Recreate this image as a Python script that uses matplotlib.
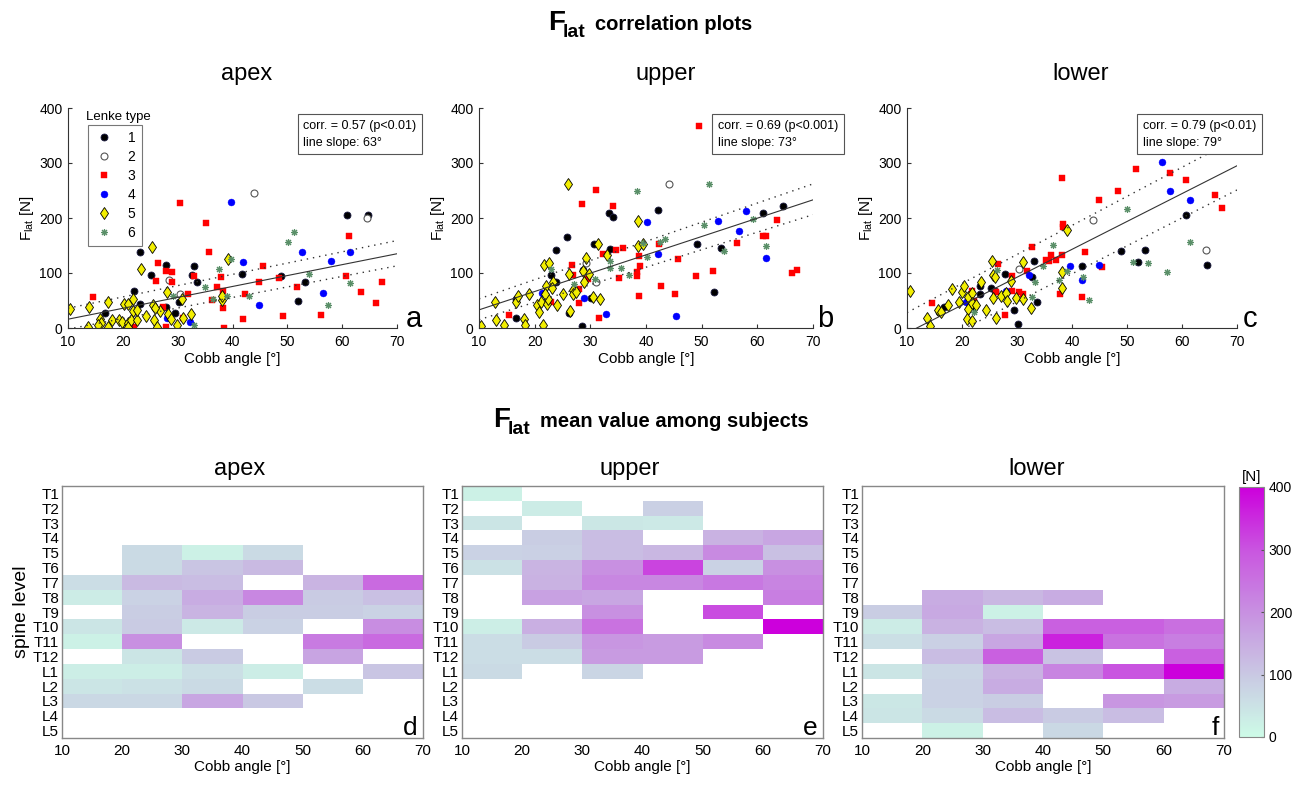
import numpy as np
import matplotlib
matplotlib.use('Agg')
import matplotlib.pyplot as plt
from matplotlib.colors import LinearSegmentedColormap
from matplotlib.lines import Line2D

plt.rcParams['font.family'] = ['Liberation Sans', 'DejaVu Sans']
plt.rcParams['mathtext.fontset'] = 'custom'
plt.rcParams['mathtext.rm'] = 'Liberation Sans'

nan = float('nan')

###################################################################
# scatter data: (Cobb angle [deg], F_lat [N]) per Lenke type
APEX_T1 = [(23.1, 139), (25.1, 96), (22.1, 67), (16.8, 27), (23.2, 44), (27.9, 114), (27.9, 38),
           (29.6, 27), (30.2, 47), (32.9, 112), (32.7, 97), (33.5, 84), (41.8, 98), (48.9, 95),
           (52.0, 50), (53.3, 83), (60.9, 205), (64.7, 205)]
APEX_T2 = [(28.5, 87), (30.4, 61), (43.9, 245), (64.5, 200)]
APEX_T3 = [(14.5, 56), (22.1, 2), (26.4, 119), (26.0, 86), (27.8, 103), (29.0, 101), (29.0, 83),
           (27.3, 38), (27.8, 2), (30.4, 227), (31.9, 61), (30.9, 18), (32.9, 94), (35.2, 191),
           (35.8, 139), (36.2, 51), (37.1, 75), (37.9, 93), (38.2, 67), (38.2, 37), (38.4, 0),
           (42.2, 61), (42.0, 16), (44.9, 84), (45.5, 112), (48.5, 91), (49.2, 21), (51.7, 75),
           (56.2, 24), (60.7, 95), (61.2, 168), (63.5, 65), (66.1, 45), (67.3, 83)]
APEX_T4 = [(39.7, 230), (41.9, 120), (52.7, 138), (58.0, 121), (56.5, 64), (61.5, 139),
           (44.9, 42), (28.1, 19), (32.2, 11)]
APEX_T5 = [(10.4, 35), (13.8, 38), (13.7, 1), (17.3, 47), (15.8, 17), (16.0, 9), (15.5, 5),
           (17.3, 1), (18.1, 15), (19.3, 15), (20.2, 44), (21.0, 44), (21.9, 53), (21.8, 31),
           (19.9, 11), (20.9, 9), (21.0, 2), (21.5, 15), (22.5, 15), (22.6, 32), (23.4, 108),
           (24.3, 21), (25.4, 147), (25.5, 41), (25.7, 15), (26.2, 1), (26.8, 31), (28.0, 65),
           (28.3, 26), (28.7, 16), (29.8, 5), (30.8, 52), (31.0, 19), (32.4, 26), (38.0, 51),
           (38.1, 58), (39.1, 125), (25.9, 36)]
APEX_T6 = [(50.1, 157), (51.3, 174), (37.6, 108), (34.9, 75), (36.5, 53), (39.0, 59), (39.7, 125),
           (43.0, 58), (53.9, 99), (57.4, 42), (61.4, 81), (32.9, 6), (29.2, 59)]

UPPER_T1 = [(16.6, 53), (16.6, 19), (22.9, 96), (23.8, 141), (23.9, 83), (25.8, 166), (26.2, 28),
            (28.6, 106), (28.5, 4), (30.6, 152), (30.2, 55), (33.3, 210), (34.1, 201), (33.5, 144),
            (42.2, 214), (49.2, 152), (52.3, 65), (53.5, 145), (61.0, 209), (64.7, 221)]
UPPER_T2 = [(29.2, 118), (31.0, 84), (44.1, 262), (64.4, 380)]
UPPER_T3 = [(15.4, 24), (22.9, 48), (26.7, 115), (26.9, 96), (28.0, 71), (28.5, 226), (27.9, 45),
            (29.6, 90), (31.0, 251), (31.5, 19), (32.3, 134), (34.0, 222), (34.6, 141), (35.1, 91),
            (35.9, 145), (38.4, 101), (38.4, 94), (38.8, 131), (38.9, 112), (38.7, 59), (42.4, 152),
            (42.7, 77), (45.8, 125), (45.2, 62), (48.9, 95), (49.5, 368), (52.0, 104), (56.4, 155),
            (61.0, 168), (61.5, 167), (63.6, 196), (66.2, 100), (67.2, 106)]
UPPER_T4 = [(21.3, 64), (28.8, 55), (32.8, 25), (40.2, 193), (42.2, 135), (45.3, 21), (52.9, 195),
            (56.7, 177), (58.0, 213), (61.6, 128)]
UPPER_T5 = [(10.4, 3), (12.9, 48), (13.1, 15), (14.5, 5), (16.6, 47), (17.0, 59), (18.1, 17),
            (18.2, 5), (18.9, 62), (20.5, 41), (20.7, 29), (21.1, 47), (21.5, 5), (21.7, 114),
            (22.5, 118), (22.0, 76), (22.3, 44), (22.4, 53), (21.8, 62), (23.3, 83), (23.2, 73),
            (24.1, 41), (25.1, 62), (26.0, 262), (26.2, 99), (26.3, 31), (26.8, 70), (26.8, 61),
            (27.5, 65), (28.6, 104), (28.8, 83), (29.3, 128), (29.7, 98), (30.4, 56), (31.4, 153),
            (31.7, 53), (33.0, 132), (38.6, 194), (38.6, 150), (39.5, 152)]
UPPER_T6 = [(22.9, 107), (27.0, 80), (30.9, 89), (33.5, 121), (33.5, 109), (35.5, 109), (36.9, 96),
            (38.3, 250), (40.1, 129), (39.5, 155), (42.5, 157), (43.4, 162), (50.4, 187), (51.4, 262),
            (54.0, 140), (59.2, 198), (61.6, 150)]

LOWER_T1 = [(15.9, 30), (16.7, 39), (23.2, 76), (23.2, 62), (22.1, 38), (25.2, 73), (26.0, 68),
            (27.9, 98), (29.5, 33), (30.1, 7), (33.0, 122), (32.8, 92), (33.6, 47), (41.8, 113),
            (48.9, 140), (52.0, 120), (53.2, 142), (60.8, 206), (64.5, 115)]
LOWER_T2 = [(30.4, 108), (43.9, 196), (64.4, 142)]
LOWER_T3 = [(14.5, 45), (21.8, 67), (22.1, 50), (26.5, 116), (26.1, 66), (27.9, 24), (29.1, 95),
            (29.1, 68), (30.4, 65), (31.0, 62), (31.8, 103), (32.8, 148), (35.3, 124), (35.8, 121),
            (36.2, 132), (37.1, 124), (38.1, 273), (38.3, 189), (38.3, 184), (38.2, 133), (37.9, 61),
            (41.9, 56), (42.3, 138), (44.9, 233), (45.5, 111), (48.4, 250), (51.6, 289), (57.9, 281),
            (60.8, 270), (63.5, 327), (66.0, 241), (67.2, 218)]
LOWER_T4 = [(20.7, 47), (28.0, 68), (32.1, 96), (39.7, 113), (41.9, 87), (44.9, 115), (52.6, 342),
            (56.4, 302), (57.9, 250), (61.5, 233)]
LOWER_T5 = [(10.5, 68), (13.6, 19), (14.1, 3), (15.6, 33), (16.1, 29), (17.5, 41), (18.2, 71),
            (19.5, 47), (20.0, 65), (20.4, 76), (21.0, 56), (21.0, 34), (20.9, 16), (21.8, 64),
            (21.9, 13), (21.8, 45), (22.5, 41), (23.5, 84), (24.4, 32), (25.5, 121), (25.6, 96),
            (26.0, 92), (25.6, 55), (26.2, 19), (27.0, 59), (28.0, 64), (28.2, 50), (28.9, 86),
            (29.9, 55), (31.0, 53), (31.0, 120), (32.5, 36), (38.1, 101), (38.2, 72), (39.0, 178)]
LOWER_T6 = [(22.2, 30), (26.4, 105), (36.6, 151), (34.8, 112), (33.2, 83), (32.7, 56), (37.6, 87),
            (39.0, 104), (42.0, 93), (43.0, 51), (50.0, 217), (51.0, 120), (53.9, 118), (57.3, 101),
            (61.4, 156)]

# fitted line and dotted bounds, values at Cobb angle 10 and 70
FIT_X = [10, 70]
APEX_FIT = [16, 135]
APEX_UP = [36, 159]
APEX_LO = [-2, 113]
UPPER_FIT = [33, 233]
UPPER_UP = [53, 262]
UPPER_LO = [15, 206]
LOWER_FIT = [-9, 295]
LOWER_UP = [28, 345]
LOWER_LO = [-54, 251]

APEX_STATS = 'corr. = 0.57 (p<0.01)\nline slope: 63°'
UPPER_STATS = 'corr. = 0.69 (p<0.001)\nline slope: 73°'
LOWER_STATS = 'corr. = 0.79 (p<0.01)\nline slope: 79°'

LENKE_TYPES = ['1', '2', '3', '4', '5', '6']

# heatmap data: mean F_lat per spine level and Cobb angle bin
LEVELS = ['T1', 'T2', 'T3', 'T4', 'T5', 'T6', 'T7', 'T8', 'T9', 'T10', 'T11', 'T12',
          'L1', 'L2', 'L3', 'L4', 'L5']
COBB_EDGES = [10, 20, 30, 40, 50, 60, 70]

APEX_MEAN = [
    [nan, nan, nan, nan, nan, nan],
    [nan, nan, nan, nan, nan, nan],
    [nan, nan, nan, nan, nan, nan],
    [nan, nan, nan, nan, nan, nan],
    [nan, 65, 20, 65, nan, nan],
    [nan, 65, 105, 125, nan, nan],
    [60, 125, 120, nan, 135, 265],
    [30, 80, 150, 215, 95, 115],
    [nan, 90, 135, 90, 90, 80],
    [45, 95, 35, 80, nan, 205],
    [20, 200, nan, nan, 235, 265],
    [nan, 45, 95, nan, 165, nan],
    [25, 25, 55, 28, nan, 105],
    [45, 50, 65, nan, 60, nan],
    [70, 70, 160, 100, nan, nan],
    [nan, nan, nan, nan, nan, nan],
    [nan, nan, nan, nan, nan, nan],
]
UPPER_MEAN = [
    [20, nan, nan, nan, nan, nan],
    [nan, 30, nan, 85, nan, nan],
    [45, nan, 40, 35, nan, nan],
    [nan, 90, 120, nan, 140, 160],
    [80, 85, 120, 130, 210, 115],
    [50, 135, 200, 320, 80, 200],
    [nan, 140, 215, 215, 240, 220],
    [nan, 170, 160, nan, nan, 230],
    [nan, nan, 200, nan, 310, nan],
    [25, 145, 250, nan, nan, 400],
    [60, 95, 190, 180, 210, nan],
    [60, 60, 180, 180, nan, nan],
    [65, nan, 75, nan, nan, nan],
    [nan, nan, nan, nan, nan, nan],
    [nan, nan, nan, nan, nan, nan],
    [nan, nan, nan, nan, nan, nan],
    [nan, nan, nan, nan, nan, nan],
]
LOWER_MEAN = [
    [nan, nan, nan, nan, nan, nan],
    [nan, nan, nan, nan, nan, nan],
    [nan, nan, nan, nan, nan, nan],
    [nan, nan, nan, nan, nan, nan],
    [nan, nan, nan, nan, nan, nan],
    [nan, nan, nan, nan, nan, nan],
    [nan, nan, nan, nan, nan, nan],
    [nan, 150, 130, 150, nan, nan],
    [90, 155, 20, nan, nan, nan],
    [30, 140, 120, 280, 280, 255],
    [55, 85, 160, 360, 250, 230],
    [nan, 120, 280, 110, nan, 280],
    [45, 75, 140, 220, 300, 400],
    [nan, 80, 150, nan, nan, 150],
    [40, 80, 90, nan, 190, 180],
    [45, 65, 120, 95, 120, nan],
    [nan, 20, nan, 70, nan, nan],
]

###################################################################
W, H = 1305, 787
MARKERS = {
    '1': dict(marker='o', ms=5, mfc='black', mec='#1a1a40', mew=0.6),
    '2': dict(marker='o', ms=5, mfc='white', mec='#555555', mew=0.8),
    '3': dict(marker='s', ms=4, mfc='#ff0000', mec='#ff0000', mew=0.3),
    '4': dict(marker='o', ms=5, mfc='#0000ff', mec='#0000ff', mew=0.3),
    '5': dict(marker='d', ms=6, mfc='#f2ee00', mec='black', mew=0.6),
    '6': dict(marker=(8, 2, 0), ms=5, mfc='#5a8f68', mec='#5a8f68', mew=0.8),
}

cmap = LinearSegmentedColormap.from_list(
    'flat', [(0.0, '#cdfbe7'), (0.25, '#c9c8e3'), (0.5, '#c890e1'),
             (0.75, '#c955e0'), (1.0, '#cc00dc')])
cmap.set_bad('white')


def px_axes(fig, x0, y0, x1, y1):
    return fig.add_axes([x0 / W, 1 - y1 / H, (x1 - x0) / W, (y1 - y0) / H])


def title_text(fig, x, y, words):
    fig.text(x / W, 1 - y / H, 'F', fontsize=20, fontweight='bold', va='baseline')
    fig.text((x + 15) / W, 1 - (y + 7) / H, 'lat', fontsize=14, fontweight='bold', va='baseline')
    fig.text((x + 47) / W, 1 - y / H, words, fontsize=14.5, fontweight='bold', va='baseline')


def scatter_panel(ax, groups, fit, up, lo, stats, letter, letter_x, legend=False):
    for t, pts in zip(LENKE_TYPES, groups):
        arr = np.array(pts)
        ax.plot(arr[:, 0], arr[:, 1], ls='none', **MARKERS[t])
    ax.plot(FIT_X, fit, color='#333333', lw=0.8)
    ax.plot(FIT_X, up, color='#333333', lw=1.0, ls=(0, (1, 3.5)))
    ax.plot(FIT_X, lo, color='#333333', lw=1.0, ls=(0, (1, 3.5)))
    ax.set_xlim(10, 70)
    ax.set_ylim(0, 400)
    ax.set_xticks(range(10, 71, 10))
    ax.set_yticks(range(0, 401, 100))
    ax.tick_params(direction='in', length=3, labelsize=10, color='#333333')
    ax.tick_params(axis='x', pad=5)
    ax.tick_params(axis='y', pad=4)
    for s in ['top', 'right']:
        ax.spines[s].set_visible(False)
    for s in ['left', 'bottom']:
        ax.spines[s].set_color('#333333')
    ax.set_xlabel('Cobb angle [°]', fontsize=11, labelpad=2)
    ax.set_ylabel(r'$\mathrm{F_{lat}}$ [N]', fontsize=11, labelpad=2)
    ax.text(0.715, 0.945, stats, transform=ax.transAxes, fontsize=9, va='top', ha='left',
            linespacing=1.5, clip_on=False,
            bbox=dict(boxstyle='square,pad=0.45', fc='white', ec='#555555', lw=0.8))
    ax.text(letter_x, 0.005, letter, transform=ax.transAxes, fontsize=21, va='baseline',
            ha='left', clip_on=False)
    if legend:
        handles = [Line2D([], [], ls='none', **MARKERS[t]) for t in LENKE_TYPES]
        leg = ax.legend(handles, LENKE_TYPES, loc='upper left', bbox_to_anchor=(0.061, 0.923),
                        borderaxespad=0, fontsize=10, frameon=True, fancybox=False,
                        handlelength=1.4, handletextpad=1.0, labelspacing=0.36,
                        borderpad=0.45, markerfirst=True)
        leg.get_frame().set_edgecolor('#555555')
        leg.get_frame().set_linewidth(0.8)
        ax.text(0.055, 0.945, 'Lenke type', transform=ax.transAxes, fontsize=9.5, va='baseline')


def heat_panel(ax, values, letter):
    data = np.ma.masked_invalid(np.array(values, dtype=float))
    mesh = ax.pcolormesh(COBB_EDGES, np.arange(len(LEVELS) + 1), data, cmap=cmap,
                         vmin=0, vmax=400, edgecolors='face', linewidth=0)
    ax.set_ylim(len(LEVELS), 0)
    ax.set_xlim(10, 70)
    ax.set_yticks(np.arange(len(LEVELS)) + 0.5)
    ax.set_yticklabels(LEVELS)
    ax.set_xticks(COBB_EDGES)
    ax.tick_params(length=0, labelsize=11, pad=4)
    ax.tick_params(axis='y', pad=2)
    for s in ax.spines.values():
        s.set_color('#888888')
        s.set_linewidth(1.0)
    ax.set_xlabel('Cobb angle [°]', fontsize=11, labelpad=2)
    ax.text(0.985, 0.012, letter, transform=ax.transAxes, fontsize=19, va='baseline', ha='right')
    return mesh


def main():
    fig = plt.figure(figsize=(W / 100, H / 100), dpi=100)

    title_text(fig, 548, 30, 'correlation plots')
    title_text(fig, 493, 427, 'mean value among subjects')

    ax_a = px_axes(fig, 68, 108, 397, 328)
    ax_b = px_axes(fig, 479, 108, 813, 328)
    ax_c = px_axes(fig, 907, 108, 1237, 328)
    scatter_panel(ax_a, [APEX_T1, APEX_T2, APEX_T3, APEX_T4, APEX_T5, APEX_T6],
                  APEX_FIT, APEX_UP, APEX_LO, APEX_STATS, 'a', 1.027, legend=True)
    scatter_panel(ax_b, [UPPER_T1, UPPER_T2, UPPER_T3, UPPER_T4, UPPER_T5, UPPER_T6],
                  UPPER_FIT, UPPER_UP, UPPER_LO, UPPER_STATS, 'b', 1.012)
    scatter_panel(ax_c, [LOWER_T1, LOWER_T2, LOWER_T3, LOWER_T4, LOWER_T5, LOWER_T6],
                  LOWER_FIT, LOWER_UP, LOWER_LO, LOWER_STATS, 'c', 1.018)

    for x, name in [(247, 'apex'), (666, 'upper'), (1081, 'lower')]:
        fig.text(x / W, 1 - 80 / H, name, fontsize=17, ha='center', va='baseline')
    for x, name in [(240, 'apex'), (630, 'upper'), (1037, 'lower')]:
        fig.text(x / W, 1 - 475 / H, name, fontsize=17, ha='center', va='baseline')

    ax_d = px_axes(fig, 62, 486, 423, 738)
    ax_e = px_axes(fig, 462, 486, 823, 738)
    ax_f = px_axes(fig, 862, 486, 1224, 738)
    heat_panel(ax_d, APEX_MEAN, 'd')
    heat_panel(ax_e, UPPER_MEAN, 'e')
    mesh = heat_panel(ax_f, LOWER_MEAN, 'f')
    ax_d.set_ylabel('spine level', fontsize=14, labelpad=2)

    cax = px_axes(fig, 1239, 487, 1264, 737)
    cb = fig.colorbar(mesh, cax=cax, ticks=[0, 100, 200, 300, 400])
    cb.outline.set_edgecolor('#888888')
    cb.ax.tick_params(direction='in', length=2, labelsize=10, color='#555555')
    cax.set_title('[N]', fontsize=11, pad=4)

    fig.savefig('out.png', dpi=100)


if __name__ == '__main__':
    main()
